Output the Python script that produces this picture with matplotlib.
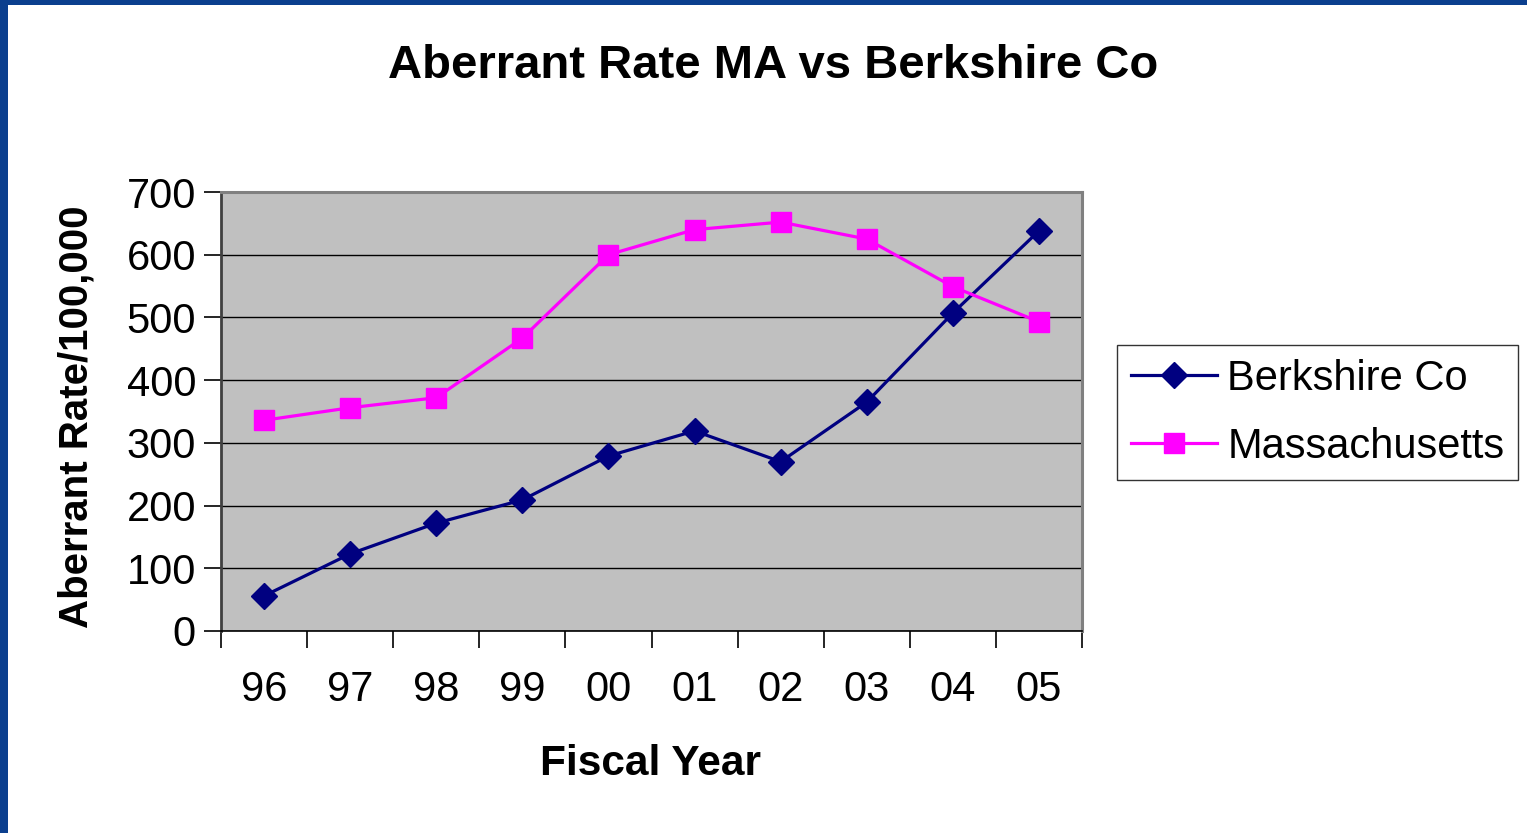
import matplotlib
matplotlib.use("Agg")
import matplotlib.pyplot as plt
from matplotlib.patches import Rectangle

# ── data ─────────────────────────────────────────────────────────────────────
years = ["96", "97", "98", "99", "00", "01", "02", "03", "04", "05"]
berkshire = [56, 123, 172, 209, 279, 319, 270, 365, 507, 638]
massachusetts = [336, 356, 372, 467, 600, 640, 652, 625, 549, 493]
y_ticks = [0, 100, 200, 300, 400, 500, 600, 700]

plt.rcParams["font.family"] = ["Liberation Sans", "DejaVu Sans"]

W, H = 1527, 833
fig = plt.figure(figsize=(W / 100, H / 100), dpi=100)
fig.patch.set_facecolor("white")

# slide background border (blue band top / left)
blue = "#0B3F8E"
fig.patches.append(Rectangle((0, 1 - 5 / H), 1, 5 / H, transform=fig.transFigure,
                             facecolor=blue, edgecolor="none", zorder=0))
fig.patches.append(Rectangle((0, 0), 8 / W, 1, transform=fig.transFigure,
                             facecolor=blue, edgecolor="none", zorder=0))

ax = fig.add_axes([221 / W, 1 - 631 / H, (1082 - 221) / W, (631 - 192) / H])
ax.set_facecolor("#C0C0C0")

x = list(range(len(years)))
ax.plot(x, berkshire, color="#000080", lw=2.3, marker="D", ms=13,
        label="Berkshire Co", zorder=3)
ax.plot(x, massachusetts, color="#FF00FF", lw=2.3, marker="s", ms=14,
        label="Massachusetts", zorder=3)

ax.set_xlim(-0.5, len(years) - 0.5)
ax.set_ylim(0, 700)
ax.set_yticks(y_ticks)
ax.set_yticklabels([str(v) for v in y_ticks], fontsize=30)
ax.yaxis.grid(True, color="black", lw=1)
ax.set_axisbelow(True)

# category labels centred, tick marks between categories
ax.set_xticks([i - 0.5 for i in range(len(years) + 1)])
ax.set_xticklabels([])
ax.set_xticks(x, minor=True)
ax.set_xticklabels(years, minor=True, fontsize=30)
ax.tick_params(axis="x", which="major", direction="out", length=12, width=1.2)
ax.tick_params(axis="x", which="minor", length=0, pad=28)
ax.tick_params(axis="y", direction="out", length=12, width=1.2, pad=6)

for s in ("top", "right"):
    ax.spines[s].set_color("#808080")
    ax.spines[s].set_linewidth(2.2)
ax.spines["left"].set_color("#404040")
ax.spines["left"].set_linewidth(2)
ax.spines["bottom"].set_color("black")
ax.spines["bottom"].set_linewidth(1.2)

fig.text(773 / W, 1 - 66 / H, "Aberrant Rate MA vs Berkshire Co",
         ha="center", va="center", fontsize=34, fontweight="bold")
fig.text(650 / W, 1 - 764 / H, "Fiscal Year", ha="center", va="center",
         fontsize=30.5, fontweight="bold")
fig.text(77 / W, 1 - 417 / H, "Aberrant Rate/100,000", ha="center", va="center",
         rotation=90, fontsize=29, fontweight="bold")

leg = fig.legend(loc="upper left", bbox_to_anchor=(1117 / W, 1 - 345 / H),
                 fontsize=30, frameon=True, fancybox=False, edgecolor="black",
                 handlelength=2.06, handletextpad=0.26, borderpad=0.33,
                 labelspacing=0.67, borderaxespad=0)
leg.get_frame().set_linewidth(1)

fig.savefig("out.png", dpi=100)
